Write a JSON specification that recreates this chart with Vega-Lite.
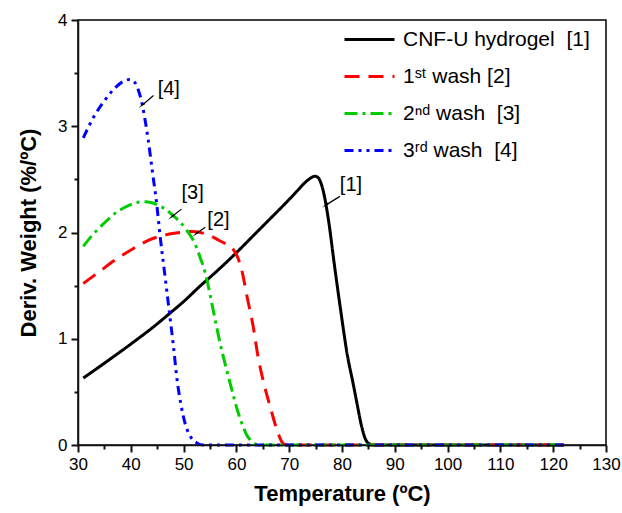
{
  "$schema": "https://vega.github.io/schema/vega-lite/v6.json",
  "width": 528,
  "height": 425,
  "autosize": {"type": "none"},
  "padding": {"left": 78, "top": 20, "right": 16, "bottom": 68},
  "background": "white",
  "config": {
    "view": {"stroke": "black", "strokeWidth": 1.5},
    "font": "Liberation Sans",
    "axis": {
      "labelColor": "black",
      "labelFont": "Liberation Sans",
      "labelFontSize": 17,
      "titleFont": "Liberation Sans",
      "titleFontSize": 22,
      "titleFontWeight": "bold",
      "titleColor": "black",
      "grid": false
    }
  },
  "resolve": {"axis": {"x": "independent", "y": "independent"}},
  "datasets": {
    "curves": [
      {"s": "CNF-U hydrogel\u00a0 [1]", "T": 31, "v": 0.63},
      {"s": "CNF-U hydrogel\u00a0 [1]", "T": 35, "v": 0.77},
      {"s": "CNF-U hydrogel\u00a0 [1]", "T": 40, "v": 0.95},
      {"s": "CNF-U hydrogel\u00a0 [1]", "T": 45, "v": 1.14},
      {"s": "CNF-U hydrogel\u00a0 [1]", "T": 47.4, "v": 1.24},
      {"s": "CNF-U hydrogel\u00a0 [1]", "T": 50, "v": 1.35},
      {"s": "CNF-U hydrogel\u00a0 [1]", "T": 53, "v": 1.49},
      {"s": "CNF-U hydrogel\u00a0 [1]", "T": 56.6, "v": 1.65},
      {"s": "CNF-U hydrogel\u00a0 [1]", "T": 60, "v": 1.81},
      {"s": "CNF-U hydrogel\u00a0 [1]", "T": 63, "v": 1.96},
      {"s": "CNF-U hydrogel\u00a0 [1]", "T": 66, "v": 2.11},
      {"s": "CNF-U hydrogel\u00a0 [1]", "T": 69, "v": 2.26},
      {"s": "CNF-U hydrogel\u00a0 [1]", "T": 71.5, "v": 2.39},
      {"s": "CNF-U hydrogel\u00a0 [1]", "T": 73, "v": 2.47},
      {"s": "CNF-U hydrogel\u00a0 [1]", "T": 74, "v": 2.51},
      {"s": "CNF-U hydrogel\u00a0 [1]", "T": 74.8, "v": 2.53},
      {"s": "CNF-U hydrogel\u00a0 [1]", "T": 75.4, "v": 2.52},
      {"s": "CNF-U hydrogel\u00a0 [1]", "T": 75.9, "v": 2.48},
      {"s": "CNF-U hydrogel\u00a0 [1]", "T": 76.5, "v": 2.38},
      {"s": "CNF-U hydrogel\u00a0 [1]", "T": 77.4, "v": 2.13},
      {"s": "CNF-U hydrogel\u00a0 [1]", "T": 78.6, "v": 1.68},
      {"s": "CNF-U hydrogel\u00a0 [1]", "T": 79.8, "v": 1.25},
      {"s": "CNF-U hydrogel\u00a0 [1]", "T": 81.0, "v": 0.85},
      {"s": "CNF-U hydrogel\u00a0 [1]", "T": 82.1, "v": 0.58},
      {"s": "CNF-U hydrogel\u00a0 [1]", "T": 83.0, "v": 0.35},
      {"s": "CNF-U hydrogel\u00a0 [1]", "T": 83.6, "v": 0.20},
      {"s": "CNF-U hydrogel\u00a0 [1]", "T": 84.4, "v": 0.06},
      {"s": "CNF-U hydrogel\u00a0 [1]", "T": 85.2, "v": 0.01},
      {"s": "CNF-U hydrogel\u00a0 [1]", "T": 86, "v": 0},
      {"s": "CNF-U hydrogel\u00a0 [1]", "T": 122, "v": 0},

      {"s": "1ˢᵗ wash [2]", "T": 31, "v": 1.52},
      {"s": "1ˢᵗ wash [2]", "T": 34, "v": 1.63},
      {"s": "1ˢᵗ wash [2]", "T": 37, "v": 1.74},
      {"s": "1ˢᵗ wash [2]", "T": 40.5, "v": 1.85},
      {"s": "1ˢᵗ wash [2]", "T": 43.5, "v": 1.93},
      {"s": "1ˢᵗ wash [2]", "T": 46.8, "v": 1.98},
      {"s": "1ˢᵗ wash [2]", "T": 49.5, "v": 2.00},
      {"s": "1ˢᵗ wash [2]", "T": 51.8, "v": 2.01},
      {"s": "1ˢᵗ wash [2]", "T": 54.5, "v": 1.98},
      {"s": "1ˢᵗ wash [2]", "T": 56.9, "v": 1.92},
      {"s": "1ˢᵗ wash [2]", "T": 59.4, "v": 1.84},
      {"s": "1ˢᵗ wash [2]", "T": 60.2, "v": 1.77},
      {"s": "1ˢᵗ wash [2]", "T": 61, "v": 1.65},
      {"s": "1ˢᵗ wash [2]", "T": 62, "v": 1.40},
      {"s": "1ˢᵗ wash [2]", "T": 63.2, "v": 1.11},
      {"s": "1ˢᵗ wash [2]", "T": 64.1, "v": 0.83},
      {"s": "1ˢᵗ wash [2]", "T": 65.1, "v": 0.60},
      {"s": "1ˢᵗ wash [2]", "T": 66.4, "v": 0.36},
      {"s": "1ˢᵗ wash [2]", "T": 67.9, "v": 0.11},
      {"s": "1ˢᵗ wash [2]", "T": 68.6, "v": 0.03},
      {"s": "1ˢᵗ wash [2]", "T": 69.5, "v": 0},
      {"s": "1ˢᵗ wash [2]", "T": 122, "v": 0},

      {"s": "2ⁿᵈ wash\u00a0 [3]", "T": 31, "v": 1.87},
      {"s": "2ⁿᵈ wash\u00a0 [3]", "T": 33, "v": 1.99},
      {"s": "2ⁿᵈ wash\u00a0 [3]", "T": 35, "v": 2.09},
      {"s": "2ⁿᵈ wash\u00a0 [3]", "T": 37, "v": 2.18},
      {"s": "2ⁿᵈ wash\u00a0 [3]", "T": 39, "v": 2.24},
      {"s": "2ⁿᵈ wash\u00a0 [3]", "T": 41, "v": 2.28},
      {"s": "2ⁿᵈ wash\u00a0 [3]", "T": 42.4, "v": 2.29},
      {"s": "2ⁿᵈ wash\u00a0 [3]", "T": 44, "v": 2.28},
      {"s": "2ⁿᵈ wash\u00a0 [3]", "T": 45.5, "v": 2.25},
      {"s": "2ⁿᵈ wash\u00a0 [3]", "T": 46.8, "v": 2.21},
      {"s": "2ⁿᵈ wash\u00a0 [3]", "T": 48, "v": 2.16},
      {"s": "2ⁿᵈ wash\u00a0 [3]", "T": 49.3, "v": 2.10},
      {"s": "2ⁿᵈ wash\u00a0 [3]", "T": 50.6, "v": 2.02},
      {"s": "2ⁿᵈ wash\u00a0 [3]", "T": 52, "v": 1.91},
      {"s": "2ⁿᵈ wash\u00a0 [3]", "T": 53.1, "v": 1.77},
      {"s": "2ⁿᵈ wash\u00a0 [3]", "T": 54.1, "v": 1.62},
      {"s": "2ⁿᵈ wash\u00a0 [3]", "T": 55.6, "v": 1.27},
      {"s": "2ⁿᵈ wash\u00a0 [3]", "T": 56.9, "v": 0.96},
      {"s": "2ⁿᵈ wash\u00a0 [3]", "T": 58.5, "v": 0.64},
      {"s": "2ⁿᵈ wash\u00a0 [3]", "T": 59.4, "v": 0.47},
      {"s": "2ⁿᵈ wash\u00a0 [3]", "T": 60.3, "v": 0.31},
      {"s": "2ⁿᵈ wash\u00a0 [3]", "T": 61.3, "v": 0.17},
      {"s": "2ⁿᵈ wash\u00a0 [3]", "T": 62, "v": 0.09},
      {"s": "2ⁿᵈ wash\u00a0 [3]", "T": 62.6, "v": 0.05},
      {"s": "2ⁿᵈ wash\u00a0 [3]", "T": 63.5, "v": 0.01},
      {"s": "2ⁿᵈ wash\u00a0 [3]", "T": 64.5, "v": 0},
      {"s": "2ⁿᵈ wash\u00a0 [3]", "T": 122, "v": 0},

      {"s": "3ʳᵈ wash\u00a0 [4]", "T": 31, "v": 2.89},
      {"s": "3ʳᵈ wash\u00a0 [4]", "T": 33, "v": 3.09},
      {"s": "3ʳᵈ wash\u00a0 [4]", "T": 35, "v": 3.24},
      {"s": "3ʳᵈ wash\u00a0 [4]", "T": 37, "v": 3.36},
      {"s": "3ʳᵈ wash\u00a0 [4]", "T": 38.5, "v": 3.42},
      {"s": "3ʳᵈ wash\u00a0 [4]", "T": 39.8, "v": 3.44},
      {"s": "3ʳᵈ wash\u00a0 [4]", "T": 40.8, "v": 3.41},
      {"s": "3ʳᵈ wash\u00a0 [4]", "T": 41.5, "v": 3.33},
      {"s": "3ʳᵈ wash\u00a0 [4]", "T": 42.1, "v": 3.22},
      {"s": "3ʳᵈ wash\u00a0 [4]", "T": 42.7, "v": 3.06},
      {"s": "3ʳᵈ wash\u00a0 [4]", "T": 43.3, "v": 2.87},
      {"s": "3ʳᵈ wash\u00a0 [4]", "T": 44.1, "v": 2.57},
      {"s": "3ʳᵈ wash\u00a0 [4]", "T": 44.9, "v": 2.27},
      {"s": "3ʳᵈ wash\u00a0 [4]", "T": 45.5, "v": 1.99},
      {"s": "3ʳᵈ wash\u00a0 [4]", "T": 46.5, "v": 1.58},
      {"s": "3ʳᵈ wash\u00a0 [4]", "T": 47.4, "v": 1.21},
      {"s": "3ʳᵈ wash\u00a0 [4]", "T": 48.1, "v": 0.92},
      {"s": "3ʳᵈ wash\u00a0 [4]", "T": 48.7, "v": 0.64},
      {"s": "3ʳᵈ wash\u00a0 [4]", "T": 49.5, "v": 0.38},
      {"s": "3ʳᵈ wash\u00a0 [4]", "T": 50.3, "v": 0.20},
      {"s": "3ʳᵈ wash\u00a0 [4]", "T": 51.3, "v": 0.08},
      {"s": "3ʳᵈ wash\u00a0 [4]", "T": 52.5, "v": 0.02},
      {"s": "3ʳᵈ wash\u00a0 [4]", "T": 53.7, "v": 0},
      {"s": "3ʳᵈ wash\u00a0 [4]", "T": 122, "v": 0}
    ],
    "notes": [
      {"label": "[4]", "tx": 47.2, "tv": 3.35, "T1": 44.3, "v1": 3.29, "T2": 42.2, "v2": 3.20},
      {"label": "[3]", "tx": 51.7, "tv": 2.37, "T1": 49.6, "v1": 2.22, "T2": 47.8, "v2": 2.15},
      {"label": "[2]", "tx": 56.6, "tv": 2.12, "T1": 54.1, "v1": 2.05, "T2": 52.4, "v2": 1.99},
      {"label": "[1]", "tx": 81.7, "tv": 2.45, "T1": 79.6, "v1": 2.34, "T2": 77.0, "v2": 2.26}
    ]
  },
  "layer": [
    {
      "data": {"name": "curves"},
      "mark": {"type": "line", "strokeWidth": 3, "interpolate": "monotone"},
      "encoding": {
        "x": {
          "field": "T", "type": "quantitative",
          "scale": {"domain": [30, 130], "nice": false, "zero": false},
          "axis": {
            "orient": "bottom",
            "title": "Temperature (ºC)",
            "values": [30, 40, 50, 60, 70, 80, 90, 100, 110, 120, 130],
            "format": "d",
            "zindex": 2,
            "ticks": true,
            "tickSize": 7,
            "tickWidth": 2,
            "tickColor": "#111111",
            "tickOpacity": 1,
            "domain": true,
            "domainColor": "#111111",
            "domainWidth": 1.5,
            "labelPadding": 4,
            "titlePadding": 11,
            "labelFlush": false
          }
        },
        "y": {
          "field": "v", "type": "quantitative",
          "scale": {"domain": [0, 4], "nice": false},
          "axis": {
            "orient": "left",
            "title": "Deriv. Weight (%/ºC)",
            "values": [0, 1, 2, 3, 4],
            "format": "d",
            "zindex": 2,
            "ticks": true,
            "tickSize": 7,
            "tickWidth": 2,
            "tickColor": "#111111",
            "tickOpacity": 1,
            "domain": true,
            "domainColor": "#111111",
            "domainWidth": 1.5,
            "labelPadding": 4,
            "titlePadding": 17,
            "labelFlush": false
          }
        },
        "color": {
          "field": "s", "type": "nominal",
          "scale": {
            "domain": ["CNF-U hydrogel\u00a0 [1]", "1ˢᵗ wash [2]", "2ⁿᵈ wash\u00a0 [3]", "3ʳᵈ wash\u00a0 [4]"],
            "range": ["#000000", "#ff0000", "#00cc00", "#0000ff"]
          },
          "legend": {
            "title": null,
            "orient": "none",
            "legendX": 265,
            "legendY": -7,
            "symbolType": "stroke",
            "symbolSize": 2500,
            "symbolStrokeWidth": 3,
            "labelFont": "Liberation Sans",
            "labelFontSize": 21,
            "labelColor": "black",
            "labelLimit": 300,
            "labelOffset": 7,
            "rowPadding": -21,
            "padding": 0
          }
        },
        "strokeDash": {
          "field": "s", "type": "nominal",
          "scale": {
            "domain": ["CNF-U hydrogel\u00a0 [1]", "1ˢᵗ wash [2]", "2ⁿᵈ wash\u00a0 [3]", "3ʳᵈ wash\u00a0 [4]"],
            "range": [[1, 0], [15, 9], [13, 5, 3, 5], [9, 5, 3, 5, 3, 5]]
          },
          "legend": null
        }
      }
    },
    {
      "data": {"name": "notes"},
      "mark": {"type": "rule", "color": "black", "strokeWidth": 1.2},
      "encoding": {
        "x": {"field": "T1", "type": "quantitative", "axis": null},
        "y": {"field": "v1", "type": "quantitative", "axis": null},
        "x2": {"field": "T2"},
        "y2": {"field": "v2"}
      }
    },
    {
      "data": {"name": "notes"},
      "mark": {"type": "point", "shape": "wedge", "filled": true, "color": "black", "size": 70, "angle": 232, "opacity": 1},
      "encoding": {
        "x": {"field": "T2", "type": "quantitative", "axis": null},
        "y": {"field": "v2", "type": "quantitative", "axis": null}
      }
    },
    {
      "data": {"name": "notes"},
      "mark": {"type": "text", "fontSize": 20, "font": "Liberation Sans", "color": "black"},
      "encoding": {
        "x": {
          "field": "tx", "type": "quantitative",
          "axis": {
            "orient": "bottom",
            "title": null,
            "values": [35, 45, 55, 65, 75, 85, 95, 105, 115, 125],
            "labels": false,
            "domain": false,
            "zindex": 2,
            "ticks": true,
            "tickColor": "#111111",
            "tickOpacity": 1,
            "tickWidth": 2,
            "tickSize": 4
          }
        },
        "y": {
          "field": "tv", "type": "quantitative",
          "axis": {
            "orient": "left",
            "title": null,
            "values": [0.5, 1.5, 2.5, 3.5],
            "labels": false,
            "domain": false,
            "zindex": 2,
            "ticks": true,
            "tickColor": "#111111",
            "tickOpacity": 1,
            "tickWidth": 2,
            "tickSize": 4
          }
        },
        "text": {"field": "label"}
      }
    }
  ]
}
